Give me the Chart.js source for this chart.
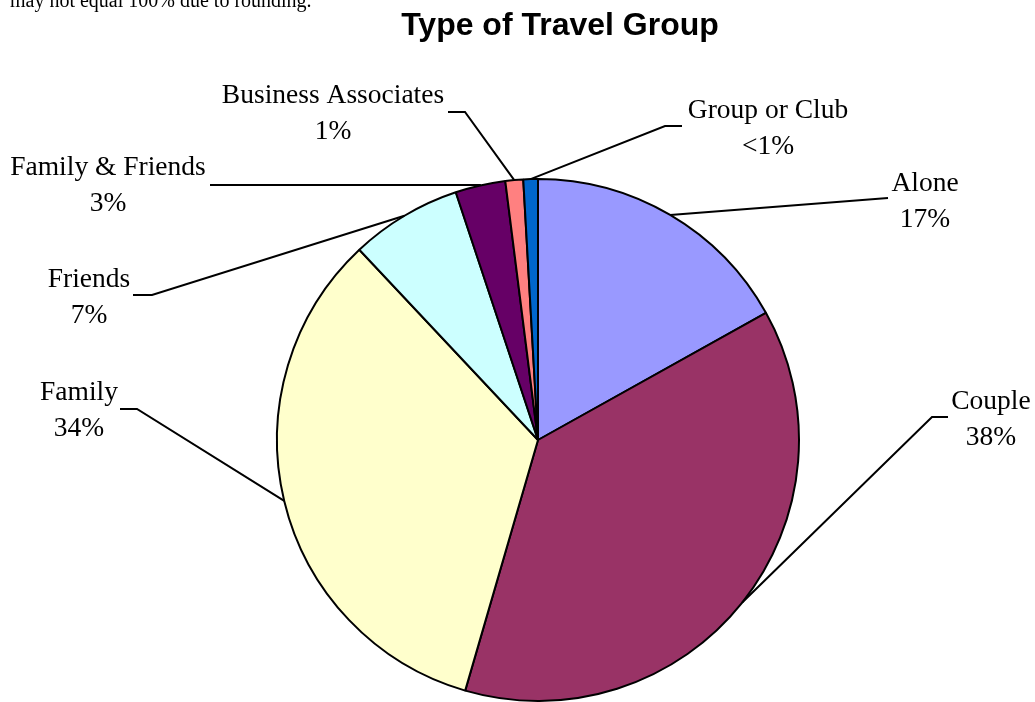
<!DOCTYPE html>
<html>
<head>
<meta charset="utf-8">
<script src="https://cdn.jsdelivr.net/npm/chart.js@4/dist/chart.umd.min.js"></script>
<style>
  html, body { margin: 0; padding: 0; background: #fff; }
  #wrap { position: relative; width: 1035px; height: 702px; }
</style>
</head>
<body>
<div id="wrap"><canvas id="chart"></canvas></div>
<script>
// Share of respondents by travel group (percent), clockwise from 12 o'clock.
const groupNames = ['Alone', 'Couple', 'Family', 'Friends', 'Family & Friends', 'Business Associates', 'Group or Club'];
const groupShares = [16.9, 37.6, 33.5, 6.9, 3.1, 1.1, 0.9];
const sliceColors = ['#9999FF', '#993366', '#FFFFCC', '#CCFFFF', '#660066', '#FF8080', '#0066CC'];

// Where each label sits: text centre / first baseline, then the leader elbow and stub end.
const labelLayout = [
    { x: 925, y: 191, elbow: [888, 198], end: [888, 198] },
    { x: 991, y: 409, elbow: [932, 417], end: [948, 417] },
    { x: 79, y: 400, elbow: [137, 409], end: [120, 409] },
    { x: 89, y: 287, elbow: [152, 295], end: [133, 295] },
    { x: 108, y: 175, elbow: [480, 185], end: [210, 185] },
    { x: 333, y: 103, elbow: [465, 112], end: [448, 112] },
    { x: 768, y: 118, elbow: [665, 126], end: [682, 126] }
];

const titleText = 'Type of Travel Group';
const noteText = 'may not equal 100% due to rounding.';

function shareLabel(v) {
    return v < 1 ? '<1%' : Math.round(v) + '%';
}

// Draws the title, the note, and the slice labels with their leader lines.
const labelsPlugin = {
    id: 'sliceLabels',
    afterDraw(chart) {
        const ctx = chart.ctx;
        const arcs = chart.getDatasetMeta(0).data;
        ctx.save();

        ctx.fillStyle = '#000';
        ctx.textAlign = 'left';
        ctx.textBaseline = 'alphabetic';
        ctx.font = '20px "Liberation Serif", "Times New Roman", serif';
        ctx.fillText(noteText, 10, 7);

        ctx.textAlign = 'center';
        ctx.font = 'bold 32px "Liberation Sans", Arial, sans-serif';
        ctx.fillText(titleText, 560, 35);

        ctx.strokeStyle = '#000';
        ctx.lineWidth = 2;
        arcs.forEach((arc, i) => {
            const p = arc.getProps(['x', 'y', 'startAngle', 'endAngle', 'outerRadius'], true);
            const mid = (p.startAngle + p.endAngle) / 2;
            const ax = p.x + Math.cos(mid) * p.outerRadius;
            const ay = p.y + Math.sin(mid) * p.outerRadius;
            const lay = labelLayout[i];
            ctx.beginPath();
            ctx.moveTo(ax, ay);
            ctx.lineTo(lay.elbow[0], lay.elbow[1]);
            ctx.lineTo(lay.end[0], lay.end[1]);
            ctx.stroke();

            ctx.font = '27.5px "Liberation Serif", "Times New Roman", serif';
            ctx.fillText(groupNames[i], lay.x, lay.y);
            ctx.fillText(shareLabel(groupShares[i]), lay.x, lay.y + 35.5);
        });

        ctx.restore();
    }
};

new Chart(document.getElementById('chart'), {
    type: 'pie',
    data: {
        labels: groupNames,
        datasets: [{
            data: groupShares,
            backgroundColor: sliceColors,
            borderColor: '#000',
            borderWidth: 2,
            hoverOffset: 0,
            offset: 0
        }]
    },
    options: {
        responsive: true,
        maintainAspectRatio: false,
        animation: false,
        events: [],
        layout: { padding: { top: 178, bottom: 0, left: 41, right: 0 } },
        plugins: {
            legend: { display: false },
            title: { display: false },
            tooltip: { enabled: false }
        }
    },
    plugins: [labelsPlugin]
});
</script>
</body>
</html>
